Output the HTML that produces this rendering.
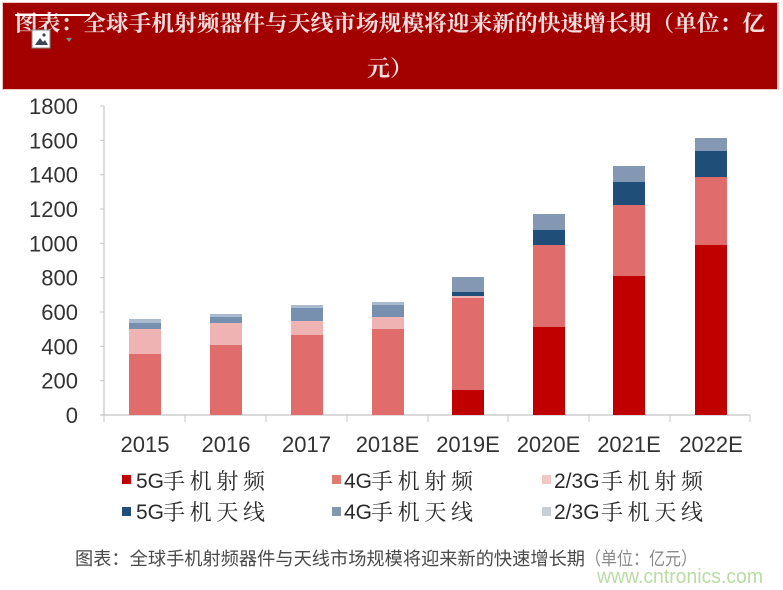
<!DOCTYPE html>
<html><head><meta charset="utf-8"><style>
html,body{margin:0;padding:0;background:#fff;}
svg{display:block;}
</style></head><body>
<svg width="783" height="590" viewBox="0 0 783 590" xmlns="http://www.w3.org/2000/svg">
<rect x="0" y="0" width="783" height="590" fill="#ffffff"/>
<!-- banner -->
<rect x="2" y="2" width="777" height="88" fill="#f3c6c6"/>
<rect x="3" y="3" width="774" height="86" fill="#a30000"/>
<text x="15" y="31" font-family="'Liberation Serif','Noto Serif CJK SC',serif" font-weight="bold" font-size="22" fill="#f6dede" textLength="750" lengthAdjust="spacingAndGlyphs">图表：全球手机射频器件与天线市场规模将迎来新的快速增长期（单位：亿</text>
<text x="367" y="76" font-family="'Liberation Serif','Noto Serif CJK SC',serif" font-weight="bold" font-size="22" fill="#f6dede" textLength="46" lengthAdjust="spacingAndGlyphs">元）</text>
<!-- broken image overlay -->
<rect x="15" y="14" width="75" height="2" fill="#ffffff"/>
<rect x="32" y="30" width="18" height="18" fill="#ffffff" stroke="#8a8a8a" stroke-width="1"/>
<path d="M35 45 L40 38 L43 42 L45 40 L48 45 Z" fill="#3c4650"/>
<circle cx="44" cy="35" r="1.6" fill="#3c4650"/>
<path d="M66 38 L72 38 L69 42 Z" fill="#7a8c8c"/>

<!-- y axis -->
<line x1="104" y1="106" x2="104" y2="415" stroke="#c4c4c4" stroke-width="1.2"/>
<g stroke="#c4c4c4" stroke-width="1">
<line x1="100" y1="106" x2="104" y2="106"/>
<line x1="100" y1="140.3" x2="104" y2="140.3"/>
<line x1="100" y1="174.7" x2="104" y2="174.7"/>
<line x1="100" y1="209" x2="104" y2="209"/>
<line x1="100" y1="243.3" x2="104" y2="243.3"/>
<line x1="100" y1="277.7" x2="104" y2="277.7"/>
<line x1="100" y1="312" x2="104" y2="312"/>
<line x1="100" y1="346.3" x2="104" y2="346.3"/>
<line x1="100" y1="380.7" x2="104" y2="380.7"/>
</g>
<g font-family="'Liberation Sans',sans-serif" font-size="22" fill="#333" text-anchor="end">
<text x="78" y="114">1800</text>
<text x="78" y="148.3">1600</text>
<text x="78" y="182.7">1400</text>
<text x="78" y="217">1200</text>
<text x="78" y="251.3">1000</text>
<text x="78" y="285.7">800</text>
<text x="78" y="320">600</text>
<text x="78" y="354.3">400</text>
<text x="78" y="388.7">200</text>
<text x="78" y="423">0</text>
</g>

<!-- x axis -->
<line x1="100" y1="415" x2="750" y2="415" stroke="#c4c4c4" stroke-width="1.2"/>
<g stroke="#c4c4c4" stroke-width="1">
<line x1="104" y1="415" x2="104" y2="422"/>
<line x1="185" y1="415" x2="185" y2="422"/>
<line x1="266" y1="415" x2="266" y2="422"/>
<line x1="347" y1="415" x2="347" y2="422"/>
<line x1="428" y1="415" x2="428" y2="422"/>
<line x1="508" y1="415" x2="508" y2="422"/>
<line x1="589" y1="415" x2="589" y2="422"/>
<line x1="670" y1="415" x2="670" y2="422"/>
<line x1="750" y1="415" x2="750" y2="422"/>
</g>
<g font-family="'Liberation Sans',sans-serif" font-size="22" fill="#333" text-anchor="middle">
<text x="145" y="452">2015</text>
<text x="226" y="452">2016</text>
<text x="306.5" y="452">2017</text>
<text x="387.5" y="452">2018E</text>
<text x="468" y="452">2019E</text>
<text x="548.5" y="452">2020E</text>
<text x="629" y="452">2021E</text>
<text x="711" y="452">2022E</text>
</g>

<!-- bars -->
<rect x="129" y="354" width="32" height="61" fill="#e06c6c"/>
<rect x="129" y="329" width="32" height="25" fill="#f0b3b3"/>
<rect x="129" y="323" width="32" height="6" fill="#7890b0"/>
<rect x="129" y="319" width="32" height="4" fill="#aabbd0"/>

<rect x="210" y="345" width="32" height="70" fill="#e06c6c"/>
<rect x="210" y="323" width="32" height="22" fill="#f0b3b3"/>
<rect x="210" y="317" width="32" height="6" fill="#7890b0"/>
<rect x="210" y="314" width="32" height="3" fill="#aabbd0"/>

<rect x="291" y="335" width="32" height="80" fill="#e06c6c"/>
<rect x="291" y="321" width="32" height="14" fill="#f0b3b3"/>
<rect x="291" y="308" width="32" height="13" fill="#7890b0"/>
<rect x="291" y="305" width="32" height="3" fill="#aabbd0"/>

<rect x="372" y="329" width="32" height="86" fill="#e06c6c"/>
<rect x="372" y="317" width="32" height="12" fill="#f0b3b3"/>
<rect x="372" y="305" width="32" height="12" fill="#7890b0"/>
<rect x="372" y="302" width="32" height="3" fill="#aabbd0"/>

<rect x="452" y="390" width="32" height="25" fill="#c00000"/>
<rect x="452" y="298" width="32" height="92" fill="#e06c6c"/>
<rect x="452" y="296" width="32" height="2" fill="#f0b3b3"/>
<rect x="452" y="292" width="32" height="4" fill="#1f4e79"/>
<rect x="452" y="277" width="32" height="15" fill="#8497b3"/>

<rect x="533" y="327" width="32" height="88" fill="#c00000"/>
<rect x="533" y="245" width="32" height="82" fill="#e06c6c"/>
<rect x="533" y="230" width="32" height="15" fill="#1f4e79"/>
<rect x="533" y="214" width="32" height="16" fill="#8497b3"/>

<rect x="613" y="276" width="32" height="139" fill="#c00000"/>
<rect x="613" y="205" width="32" height="71" fill="#e06c6c"/>
<rect x="613" y="182" width="32" height="23" fill="#1f4e79"/>
<rect x="613" y="166" width="32" height="16" fill="#8497b3"/>

<rect x="695" y="245" width="32" height="170" fill="#c00000"/>
<rect x="695" y="177" width="32" height="68" fill="#e06c6c"/>
<rect x="695" y="151" width="32" height="26" fill="#1f4e79"/>
<rect x="695" y="138" width="32" height="13" fill="#8497b3"/>

<!-- legend -->
<rect x="122" y="475" width="9" height="9" fill="#c00000"/>
<rect x="332" y="475" width="9" height="9" fill="#e07b72"/>
<rect x="542" y="475" width="9" height="9" fill="#f0c8c4"/>
<rect x="122" y="507" width="9" height="9" fill="#1f4e79"/>
<rect x="332" y="507" width="9" height="9" fill="#8497b0"/>
<rect x="542" y="507" width="9" height="9" fill="#c8cfd6"/>
<g font-family="'Liberation Sans',sans-serif" font-size="21" fill="#2a2a2a">
<text x="136" y="488">5G</text>
<text x="344" y="488">4G</text>
<text x="554" y="488">2/3G</text>
<text x="136" y="519">5G</text>
<text x="344" y="519">4G</text>
<text x="554" y="519">2/3G</text>
</g>
<g font-family="'Noto Serif CJK SC','Noto Sans CJK SC',serif" font-size="22" fill="#2a2a2a">
<text x="163" y="489" textLength="102" lengthAdjust="spacing">手机射频</text>
<text x="371" y="489" textLength="102" lengthAdjust="spacing">手机射频</text>
<text x="601" y="489" textLength="102" lengthAdjust="spacing">手机射频</text>
<text x="163" y="520" textLength="102" lengthAdjust="spacing">手机天线</text>
<text x="371" y="520" textLength="102" lengthAdjust="spacing">手机天线</text>
<text x="601" y="520" textLength="102" lengthAdjust="spacing">手机天线</text>
</g>

<!-- caption -->
<text x="75" y="565" font-family="'Liberation Sans','Noto Sans CJK SC',sans-serif" font-size="18.3" fill="#4a4a4a" textLength="510" lengthAdjust="spacingAndGlyphs">图表：全球手机射频器件与天线市场规模将迎来新的快速增长期</text>
<text x="585" y="565" font-family="'Liberation Sans','Noto Sans CJK SC',sans-serif" font-size="18.3" fill="#8a8a8a" textLength="112" lengthAdjust="spacingAndGlyphs">（单位：亿元）</text>
<text x="597" y="583" font-family="'Liberation Sans',sans-serif" font-size="20" fill="#b9dca3" textLength="166" lengthAdjust="spacingAndGlyphs">www.cntronics.com</text>
</svg>
</body></html>
